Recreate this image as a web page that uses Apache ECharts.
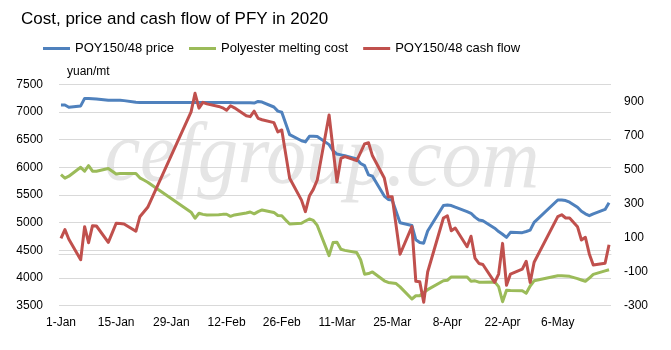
<!DOCTYPE html>
<html>
<head>
<meta charset="utf-8">
<script src="https://cdn.jsdelivr.net/npm/echarts@6/dist/echarts.min.js"></script>
<style>
html,body{margin:0;padding:0;background:#fff;}
#chart{width:671px;height:350px;}
</style>
</head>
<body>
<div id="chart"></div>
<script>
// Trading dates (D-Mon, 2020)
const dates = ['1-Jan','2-Jan','3-Jan','6-Jan','7-Jan','8-Jan','9-Jan','10-Jan','13-Jan','14-Jan','15-Jan','16-Jan','17-Jan','20-Jan','21-Jan','22-Jan','23-Jan',
'3-Feb','4-Feb','5-Feb','6-Feb','7-Feb','10-Feb','11-Feb','12-Feb','13-Feb','14-Feb','17-Feb','18-Feb','19-Feb','20-Feb','21-Feb','24-Feb','25-Feb','26-Feb','27-Feb','28-Feb',
'2-Mar','3-Mar','4-Mar','5-Mar','6-Mar','9-Mar','10-Mar','11-Mar','12-Mar','13-Mar','16-Mar','17-Mar','18-Mar','19-Mar','20-Mar','23-Mar','24-Mar','25-Mar','26-Mar','27-Mar','30-Mar','31-Mar',
'1-Apr','2-Apr','3-Apr','7-Apr','8-Apr','9-Apr','10-Apr','13-Apr','14-Apr','15-Apr','16-Apr','17-Apr','20-Apr','21-Apr','22-Apr','23-Apr','24-Apr','27-Apr','28-Apr','29-Apr','30-Apr',
'6-May','7-May','8-May','9-May','11-May','12-May','13-May','14-May','15-May','18-May','19-May'];

// POY150/48 price (yuan/mt, left axis)
const poyPrice = [7125,7125,7085,7110,7245,7245,7240,7235,7210,7210,7210,7210,7205,7175,7170,7170,7170,
7170,7170,7170,7170,7170,7170,7170,7170,7170,7165,7165,7165,7160,7190,7180,7090,7015,6995,6790,6590,
6480,6460,6560,6560,6555,6410,6300,6240,6225,6210,6150,6070,6030,5865,5840,5480,5420,5410,5200,5000,4950,4690,
4640,4630,4850,5310,5320,5310,5280,5200,5170,5100,5050,5035,4900,4840,4790,4735,4826,4820,4840,4865,5005,
5410,5410,5400,5370,5280,5206,5160,5127,5160,5240,5360];

// Polyester melting cost (yuan/mt, left axis)
const meltCost = [5867,5805,5840,6000,5930,6030,5930,5930,5980,5930,5880,5890,5890,5890,5810,5770,5730,
5190,5080,5170,5150,5140,5145,5150,5152,5115,5140,5175,5193,5160,5200,5230,5185,5130,5127,5050,4976,
4990,5030,5067,5040,4950,4404,4640,4646,4520,4500,4460,4330,4070,4080,4110,3950,3920,3910,3900,3840,3621,3680,
3680,3740,3790,3952,3960,4020,4020,4018,3940,3950,3925,3922,3930,3844,3572,3780,3775,3770,3724,3856,3950,
4040,4040,4035,4030,3990,3965,3941,4000,4065,4130,4150];

// POY150/48 cash flow (yuan/mt, right axis)
const cashFlow = [95,147,90,-30,164,70,170,168,72,128,184,182,180,137,222,250,278,
838,947,860,894,885,870,862,848,874,862,815,810,842,800,792,775,720,732,590,448,
320,252,344,383,438,820,620,428,565,575,552,600,650,657,580,450,340,340,170,2,164,-157,
-160,-280,-102,215,228,140,156,46,108,-20,-52,-58,-163,-114,66,-180,-114,-85,-39,-163,-45,
223,234,215,215,164,86,102,4,-61,-51,58];

// Axis labels shown on the category axis
const tickLabels = ['1-Jan','15-Jan','29-Jan','12-Feb','26-Feb','11-Mar','25-Mar','8-Apr','22-Apr','6-May'];
const leftTicks = {min:3500, max:7500, step:500};
const rightTicks = {min:-300, max:1000, step:200};

// Calendar slots of the date axis (1-Jan to 19-May 2020)
const months = ['Jan','Feb','Mar','Apr','May'];
const monthDays = [31,29,31,30,19];
const categories = [];
months.forEach((m, i) => { for (let d = 1; d <= monthDays[i]; d++) categories.push(d + '-' + m); });

const FONT = '"Liberation Sans", Arial, sans-serif';
const chart = echarts.init(document.getElementById('chart'), null, {renderer:'canvas'});
chart.setOption({
  animation:false,
  backgroundColor:'#ffffff',
  title:{
    text:'Cost, price and cash flow of PFY in 2020',
    left:21, top:11, padding:0,
    textStyle:{fontFamily:FONT, fontSize:17, fontWeight:'normal', color:'#000'}
  },
  legend:{
    left:43, top:42, padding:0, itemGap:15,
    icon:'rect', itemWidth:27, itemHeight:3,
    textStyle:{fontFamily:FONT, fontSize:13, color:'#000'},
    data:['POY150/48 price','Polyester melting cost','POY150/48 cash flow']
  },
  graphic:[{
    type:'text', x:104, y:200, rotation:-0.018, z:-10, silent:true,
    style:{text:'cefgroup.com', font:'italic 86px "Liberation Serif", serif', fill:'#e5e5e5', textVerticalAlign:'bottom'},
    scaleX:0.93
  }],
  grid:{left:59, right:60, top:84.3, bottom:44.3},
  xAxis:{
    type:'category', data:categories, boundaryGap:true,
    axisTick:{show:false},
    axisLine:{show:true, lineStyle:{color:'#d9d9d9', width:1}},
    axisLabel:{interval:(i, v) => tickLabels.indexOf(v) >= 0, margin:11, fontFamily:FONT, fontSize:12, color:'#000'}
  },
  yAxis:[{
    type:'value', min:leftTicks.min, max:leftTicks.max, interval:leftTicks.step,
    name:'yuan/mt', nameLocation:'end', nameGap:7,
    nameTextStyle:{fontFamily:FONT, fontSize:12, color:'#000', align:'left', padding:[0,0,0,8]},
    axisLine:{show:false}, axisTick:{show:false},
    splitLine:{lineStyle:{color:'#d9d9d9', width:1}},
    axisLabel:{margin:16, formatter:v => String(v), fontFamily:FONT, fontSize:12, color:'#000'}
  },{
    type:'value', min:rightTicks.min, max:rightTicks.max, interval:rightTicks.step,
    axisLine:{show:false}, axisTick:{show:false}, splitLine:{show:false},
    axisLabel:{margin:13, showMaxLabel:false, formatter:v => String(v), fontFamily:FONT, fontSize:12, color:'#000'}
  }],
  series:[{
    name:'POY150/48 price', type:'line', yAxisIndex:0, showSymbol:false, z:3,
    color:'#4F81BD', lineStyle:{width:3, color:'#4F81BD', join:'round'},
    data:dates.map((d,i)=>[d, poyPrice[i]])
  },{
    name:'Polyester melting cost', type:'line', yAxisIndex:0, showSymbol:false, z:3,
    color:'#9BBB59', lineStyle:{width:3, color:'#9BBB59', join:'round'},
    data:dates.map((d,i)=>[d, meltCost[i]])
  },{
    name:'POY150/48 cash flow', type:'line', yAxisIndex:1, showSymbol:false, z:4,
    color:'#C0504D', lineStyle:{width:3, color:'#C0504D', join:'round'},
    data:dates.map((d,i)=>[d, cashFlow[i]])
  }]
});
</script>
</body>
</html>
